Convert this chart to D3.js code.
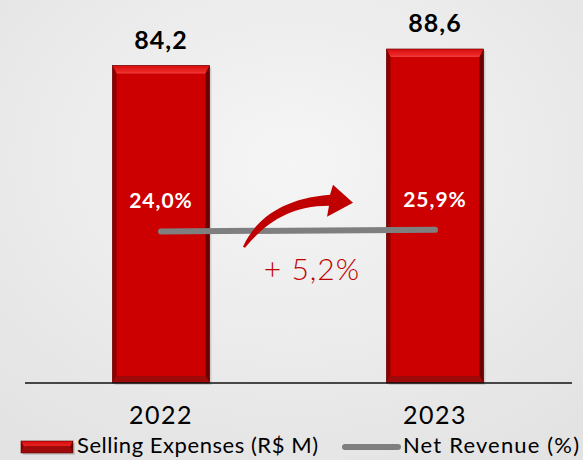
<!DOCTYPE html>
<html>
<head>
<meta charset="utf-8">
<script src="https://cdn.jsdelivr.net/npm/d3@7"></script>
<style>
  body { margin: 0; background: #ececec; }
  text { font-family: Lato, "Open Sans", sans-serif; }
</style>
</head>
<body>
<div id="chart"></div>
<script>
// chart data
var years = ['2022', '2023'];
var sellingExpenses = [84.2, 88.6];        // R$ M
var netRevenuePct = [24.0, 25.9];          // % of net revenue
var expenseLabels = ['84,2', '88,6'];
var pctLabels = ['24,0%', '25,9%'];
var growthLabel = '+ 5,2%';
var legendNames = ['Selling Expenses (R$ M)', 'Net Revenue (%)'];

var width = 583, height = 460;
var axisY = 383;

var svg = d3.select('#chart').append('svg')
    .attr('width', width)
    .attr('height', height);

var defs = svg.append('defs');
var bg = defs.append('radialGradient').attr('id', 'bg')
    .attr('cx', '50%').attr('cy', '35%').attr('r', '75%');
bg.append('stop').attr('offset', '0%').attr('stop-color', '#f5f5f5');
bg.append('stop').attr('offset', '100%').attr('stop-color', '#e3e3e3');

var topG = defs.append('linearGradient').attr('id', 'bevelTop')
    .attr('x1', 0).attr('y1', 0).attr('x2', 0).attr('y2', 1);
topG.append('stop').attr('offset', '0%').attr('stop-color', '#d80c0c');
topG.append('stop').attr('offset', '75%').attr('stop-color', '#ea2626');
topG.append('stop').attr('offset', '100%').attr('stop-color', '#f04040');

svg.append('rect').attr('width', width).attr('height', height).attr('fill', 'url(#bg)');

// scales
var x = d3.scalePoint().domain(years).range([24, 572]).padding(0.5);
var y = d3.scaleLinear().domain([0, 100]).range([axisY, 6]);
var y2 = d3.scaleLinear().domain([-165, 305]).range([axisY, 6]);
var barW = 97;

// bevelled bar
function bevelBar(g, x0, y0, w, h) {
    var x1 = x0 + w, y1 = y0 + h, bt = 8, bs = 4, bb = 7;
    g.append('rect').attr('x', x0 + 2).attr('y', y0 + 2).attr('width', w).attr('height', h)
        .attr('fill', '#000').attr('opacity', 0.12);
    g.append('rect').attr('x', x0).attr('y', y0).attr('width', w).attr('height', h)
        .attr('fill', '#cc0000');
    g.append('polygon').attr('fill', 'url(#bevelTop)')
        .attr('points', [[x0, y0], [x1, y0], [x1 - bs, y0 + bt], [x0 + bs, y0 + bt]].join(' '));
    g.append('polygon').attr('fill', '#8c0000')
        .attr('points', [[x0, y0], [x0 + bs, y0 + bt], [x0 + bs, y1 - bb], [x0, y1]].join(' '));
    g.append('polygon').attr('fill', '#6a0000')
        .attr('points', [[x1, y0], [x1 - bs, y0 + bt], [x1 - bs, y1 - bb], [x1, y1]].join(' '));
    g.append('polygon').attr('fill', '#9e0a0a')
        .attr('points', [[x0, y1], [x0 + bs, y1 - bb], [x1 - bs, y1 - bb], [x1, y1]].join(' '));
    g.append('rect').attr('x', x0).attr('y', y0).attr('width', w).attr('height', h)
        .attr('fill', 'none').attr('stroke', '#5a0000').attr('stroke-width', 0.6);
}

// bars
var bars = svg.append('g');
years.forEach(function(yr, i) {
    var top = y(sellingExpenses[i]);
    bevelBar(bars, x(yr) - barW / 2, top, barW, axisY - top);
});

// axis line
svg.append('line')
    .attr('x1', x.range()[0] + 1).attr('x2', x.range()[1])
    .attr('y1', axisY).attr('y2', axisY)
    .attr('stroke', '#111').attr('stroke-width', 1.5);

// value labels
svg.selectAll('.val').data(years).enter().append('text')
    .attr('x', function(d) { return x(d); })
    .attr('y', function(d, i) { return y(sellingExpenses[i]) - 17; })
    .attr('text-anchor', 'middle')
    .attr('font-size', 25).attr('font-weight', 'bold').attr('fill', '#000')
    .attr('letter-spacing', 1)
    .text(function(d, i) { return expenseLabels[i]; });

// net revenue line
var line = d3.line()
    .x(function(d, i) { return x(years[i]); })
    .y(function(d) { return y2(d); });
svg.append('path').datum(netRevenuePct)
    .attr('d', line)
    .attr('fill', 'none').attr('stroke', '#7f7f7f')
    .attr('stroke-width', 6).attr('stroke-linecap', 'round');

svg.selectAll('.pct').data(years).enter().append('text')
    .attr('x', function(d) { return x(d); })
    .attr('y', function(d, i) { return y2(netRevenuePct[i]) - 23; })
    .attr('text-anchor', 'middle')
    .attr('font-size', 21).attr('font-weight', 'bold').attr('fill', '#fff')
    .attr('letter-spacing', 1)
    .text(function(d, i) { return pctLabels[i]; });

// growth arrow + label, anchored between the two years on the line
var midX = (x(years[0]) + x(years[1])) / 2;
var midY = y2(d3.mean(netRevenuePct));
var ann = svg.append('g').attr('transform', 'translate(' + midX + ',' + midY + ')');
ann.append('path')
    .attr('d', 'M-55,16 C-44,-8 -20,-32 32,-36 L35,-46 L55,-28 L29,-14 L31,-25 C-8,-25 -32,-8 -53,17 Z')
    .attr('fill', '#c00000');
ann.append('text')
    .attr('x', 14).attr('y', 49)
    .attr('text-anchor', 'middle')
    .attr('font-size', 30).attr('font-weight', 300).attr('fill', '#c00000')
    .attr('letter-spacing', 1)
    .text(growthLabel);

// year labels
svg.selectAll('.yr').data(years).enter().append('text')
    .attr('x', function(d) { return x(d); })
    .attr('y', 424)
    .attr('text-anchor', 'middle')
    .attr('font-size', 25).attr('fill', '#000')
    .attr('letter-spacing', 1.5)
    .text(function(d) { return d; });

// legend
var leg = svg.append('g');
bevelBar(leg, 21, 441, 52, 12);
leg.append('text').attr('x', 77).attr('y', 453)
    .attr('font-size', 22).attr('fill', '#000')
    .attr('textLength', 241).attr('lengthAdjust', 'spacing')
    .text(legendNames[0]);
leg.append('line').attr('x1', 345).attr('x2', 398).attr('y1', 447).attr('y2', 447)
    .attr('stroke', '#7f7f7f').attr('stroke-width', 6).attr('stroke-linecap', 'round');
leg.append('text').attr('x', 403).attr('y', 453)
    .attr('font-size', 22).attr('fill', '#000')
    .attr('textLength', 176).attr('lengthAdjust', 'spacing')
    .text(legendNames[1]);
</script>
</body>
</html>
